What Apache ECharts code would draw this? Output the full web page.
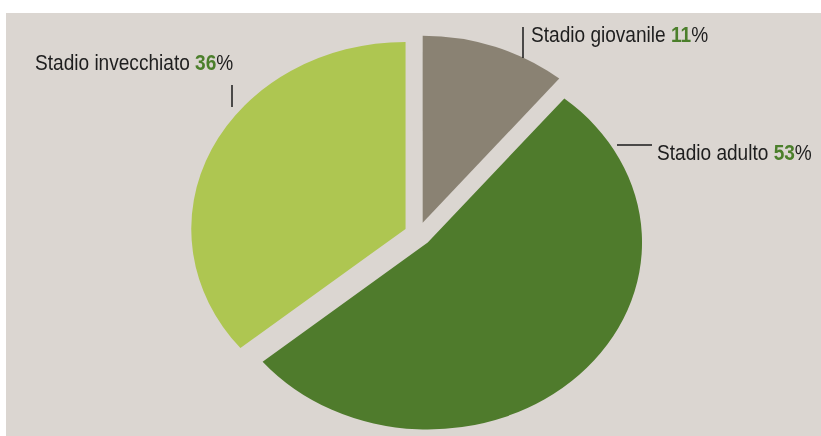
<!DOCTYPE html>
<html>
<head>
<meta charset="utf-8">
<script src="https://cdn.jsdelivr.net/npm/echarts@6/dist/echarts.min.js"></script>
<style>
  html, body { margin: 0; padding: 0; background: #ffffff; }
  #stage { position: relative; width: 821px; height: 436px; overflow: hidden; background: #ffffff; }
  #panel { position: absolute; left: 6px; top: 13px; right: 0; bottom: 0; background: #dbd6d1; }
  /* the pie is drawn as a circle and widened into an oval */
  #pie { position: absolute; left: 0; top: 0; width: 821px; height: 436px;
         transform: scaleX(1.146); transform-origin: 418px 0; }
  #labels { position: absolute; left: 0; top: 0; width: 821px; height: 436px; }
</style>
</head>
<body>
<div id="stage">
  <div id="panel"></div>
  <div id="pie"></div>
  <div id="labels"></div>
</div>
<script>
// Life stages and their share (%)
const stages = ['Stadio giovanile', 'Stadio adulto', 'Stadio invecchiato'];
const shares = [11, 53, 36];
const sliceColors = ['#8a8273', '#4f7b2c', '#aec651'];

// Label anchor points (left edge, vertical middle) and short tick marks
const labelAnchors = [[531, 35.5], [657, 153.5], [35, 63.5]];
const tickMarks = [
  [[523, 27], [523, 58]],
  [[617, 145], [652, 145]],
  [[232, 85], [232, 107]]
];

const FONT = '"Liberation Sans", Arial, sans-serif';
const TEXT_NARROW = 0.867;

// Pie
const pieChart = echarts.init(document.getElementById('pie'), null, { renderer: 'svg' });
pieChart.setOption({
  animation: false,
  series: [{
    type: 'pie',
    silent: true,
    center: [418, 234],
    radius: 187,
    startAngle: 90,
    clockwise: true,
    selectedMode: 'multiple',
    selectedOffset: 12,
    itemStyle: { borderWidth: 0 },
    select: { itemStyle: { borderWidth: 0 } },
    emphasis: { disabled: true },
    label: { show: false },
    labelLine: { show: false },
    data: stages.map((name, i) => ({
      name: name,
      value: shares[i],
      selected: true,
      itemStyle: { color: sliceColors[i] }
    }))
  }]
});

// Labels and their tick marks
const labelChart = echarts.init(document.getElementById('labels'), null, { renderer: 'canvas' });
labelChart.setOption({
  backgroundColor: 'transparent',
  animation: false,
  graphic: stages.map((name, i) => ({
    type: 'text',
    silent: true,
    x: labelAnchors[i][0],
    y: labelAnchors[i][1],
    scaleX: TEXT_NARROW,
    style: {
      text: '{n|' + name + ' }{v|' + shares[i] + '}{n|%}',
      align: 'left',
      verticalAlign: 'middle',
      font: '22px ' + FONT,
      rich: {
        n: { fontFamily: FONT, fontSize: 22, fill: '#1e1e1e' },
        v: { fontFamily: FONT, fontSize: 22, fontWeight: 'bold', fill: '#4b7f2b' }
      }
    }
  })).concat(tickMarks.map(seg => ({
    type: 'line',
    silent: true,
    shape: { x1: seg[0][0], y1: seg[0][1], x2: seg[1][0], y2: seg[1][1] },
    style: { stroke: '#1a1a1a', lineWidth: 1.5 }
  })))
});
</script>
</body>
</html>
